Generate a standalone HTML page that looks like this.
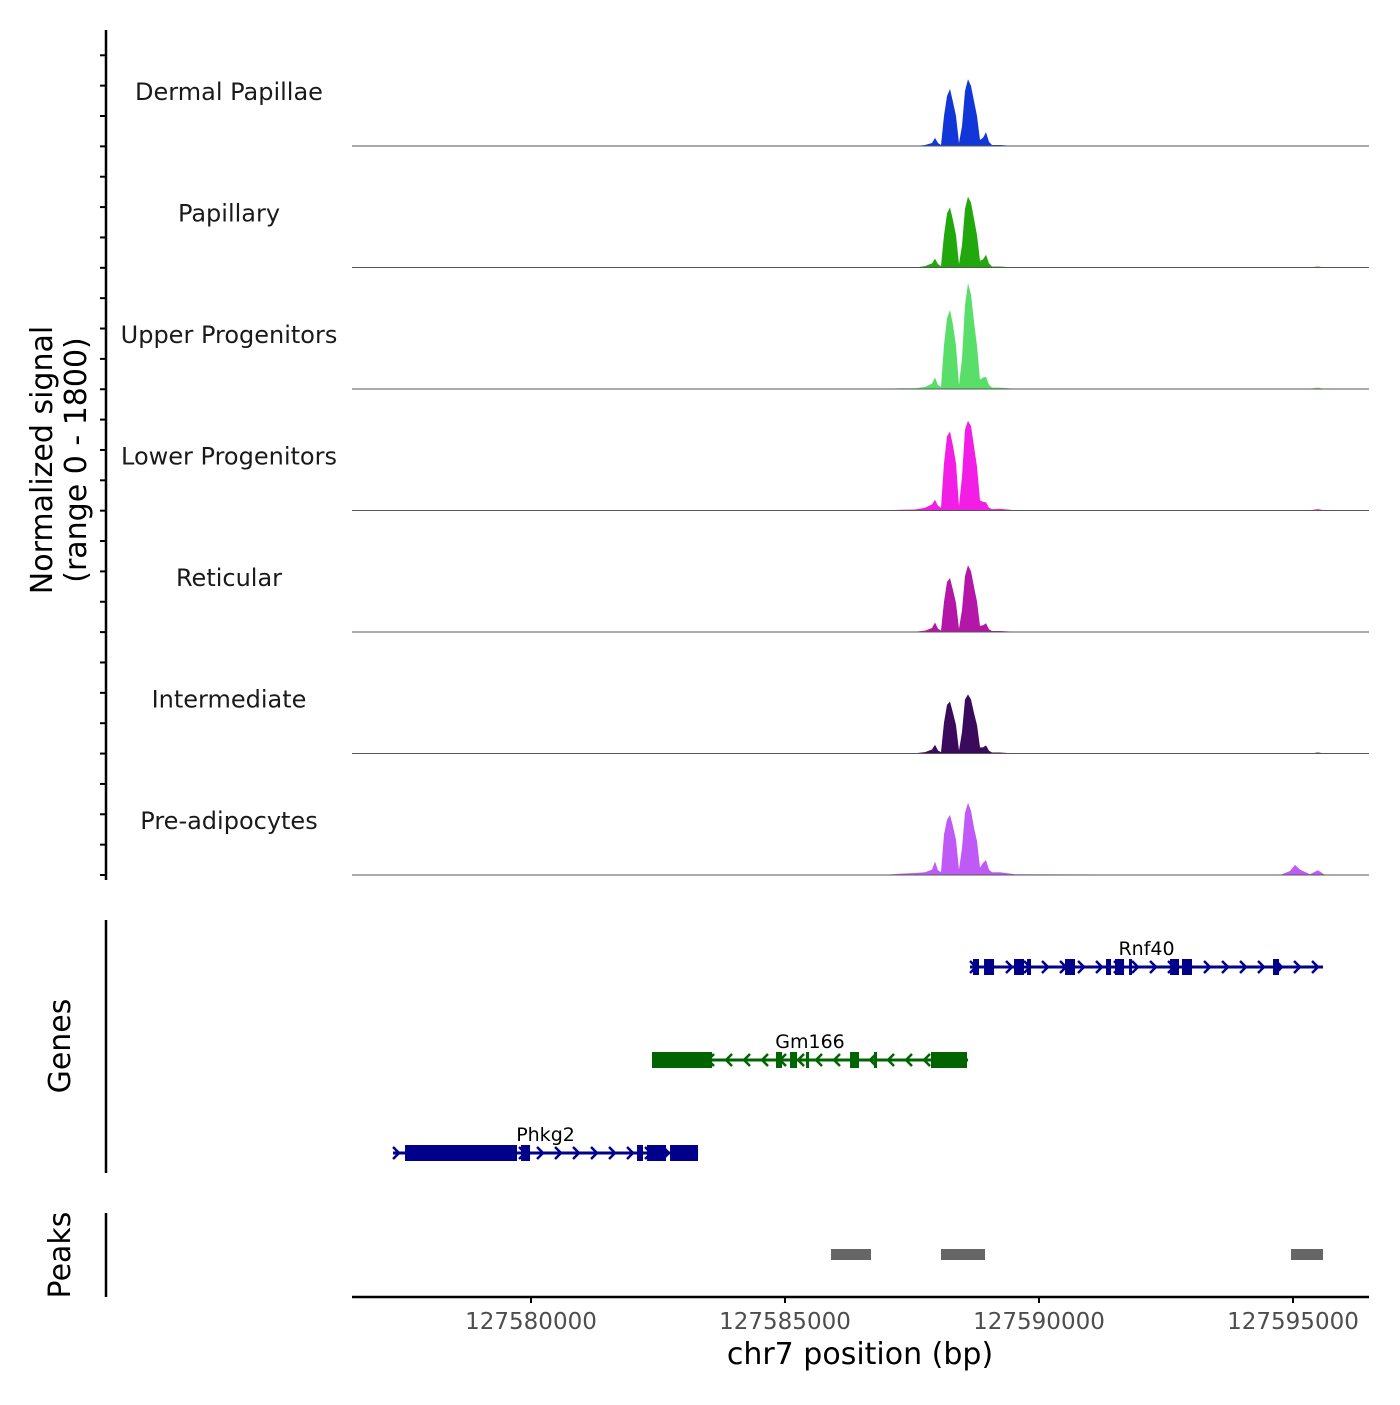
<!DOCTYPE html>
<html><head><meta charset="utf-8"><style>body{margin:0;background:#fff}svg{font-family:"DejaVu Sans","Liberation Sans",sans-serif}</style></head>
<body>
<svg id="c" width="1400" height="1400" xmlns="http://www.w3.org/2000/svg"></svg>
<script>
const trackNames=["Dermal Papillae","Papillary","Upper Progenitors","Lower Progenitors","Reticular","Intermediate","Pre-adipocytes"];
const trackColors=["#1237d8","#20a80c","#5ade6a","#f21ee6","#b417a8","#3a0a5c","#bf5af7"];
const positions=[127576476,127587000,127587300,127587559,127587756,127587894,127587953,127588012,127588071,127588130,127588189,127588248,127588307,127588367,127588426,127588485,127588544,127588603,127588662,127588721,127588780,127588839,127588898,127588957,127589016,127589075,127589233,127589528,127594745,127594941,127595040,127595138,127595335,127595493,127595630,127596496];
const vDP=[0,0,0,0,15,45,120,45,15,445,740,845,650,445,45,295,815,990,890,665,445,90,120,205,60,15,15,0,0,0,0,0,0,5,0,0];
const vPAP=[0,0,5,0,20,60,130,50,20,480,800,890,700,480,50,330,870,1050,960,720,480,100,120,190,60,15,15,0,0,0,0,0,5,15,0,0];
const vUP=[0,5,10,10,30,80,170,60,30,650,1050,1170,950,640,60,450,1240,1570,1400,1000,640,140,170,180,60,20,20,5,0,0,0,0,5,20,0,0];
const vLP=[0,5,10,15,40,90,160,70,40,700,1100,1170,960,700,70,500,1200,1330,1250,950,650,150,130,120,40,20,25,5,0,0,0,5,5,20,0,0];
const vRET=[0,0,5,5,20,60,140,50,20,450,740,800,620,430,50,330,830,990,900,670,450,90,100,130,40,15,15,5,0,0,0,0,0,5,0,0];
const vINT=[0,0,5,5,20,60,130,45,20,460,720,770,600,420,45,320,800,875,800,600,420,90,90,120,40,15,15,0,0,0,0,0,0,15,0,0];
const vPRE=[0,5,20,30,40,80,200,70,40,600,820,890,720,520,80,400,920,1070,950,700,500,110,180,220,80,40,40,10,0,60,150,80,10,70,0,0];
const trackValues=[vDP,vPAP,vUP,vLP,vRET,vINT,vPRE];
const xTicks=[127580000,127585000,127590000,127595000];
const genes=[
 {name:"Rnf40",strand:1,start:127588642,end:127595591,row:0,color:"#00008b",exons:[[127588701,127588819],[127588918,127589115],[127589508,127589705],[127589764,127589843],[127590512,127590709],[127591319,127591418],[127591496,127591674],[127591772,127591811],[127592579,127592756],[127592815,127593012],[127594607,127594725]]},
 {name:"Gm166",strand:-1,start:127582382,end:127588603,row:1,color:"#006400",exons:[[127582382,127583563],[127584823,127584941],[127585099,127585237],[127585414,127585453],[127586280,127586457],[127586752,127586792],[127587874,127588583]]},
 {name:"Phkg2",strand:1,start:127577284,end:127583288,row:2,color:"#00008b",exons:[[127577520,127579725],[127579804,127579981],[127582087,127582205],[127582284,127582658],[127582737,127583288]]}
];
const peaks=[[127585906,127586693],[127588071,127588937],[127594961,127595591]];

const NS="http://www.w3.org/2000/svg",svg=document.getElementById('c');
function el(t,a,p){const e=document.createElementNS(NS,t);for(const k in a)e.setAttribute(k,a[k]);(p||svg).appendChild(e);return e;}
const x=bp=>531+(bp-127580000)*254/5000;
const base0=146,step=121.5,ymax=1800,th=121.5;
const y=(i,v)=>base0+i*step-v/ymax*th;
let ax=el('line',{x1:106,y1:30,x2:106,y2:880,stroke:'#000','stroke-width':2.5});

for(let t=875;t>=30;t-=30.36){const l=el('line',{x1:100,y1:t,x2:106,y2:t,stroke:'#000','stroke-width':2});}
function txt(s,a,name){const e=el('text',a);e.textContent=s;return e;}
txt("Normalized signal",{x:0,y:0,transform:'translate(52,460) rotate(-90)','text-anchor':'middle','font-size':30},'y-axis-title');
txt("(range 0 - 1800)",{x:0,y:0,transform:'translate(86,460) rotate(-90)','text-anchor':'middle','font-size':30},'y-axis-range');
trackNames.forEach((n,i)=>{
 const b=base0+i*step;
 txt(n,{x:229,y:b-46,'text-anchor':'middle','font-size':24,fill:'#1a1a1a'},'track-label');
 let d=`M${x(positions[0])},${b}`;
 positions.forEach((p,j)=>{d+=` L${x(p).toFixed(1)},${y(i,trackValues[i][j]).toFixed(1)}`;});
 d+=` L${x(positions[positions.length-1])},${b} Z`;
 const a=el('path',{d,fill:trackColors[i]});
 const l=el('line',{x1:352,y1:b,x2:1369,y2:b,stroke:'#555','stroke-width':1});
});
let g=el('line',{x1:106,y1:920,x2:106,y2:1173,stroke:'#000','stroke-width':2.5});
txt("Genes",{x:0,y:0,transform:'translate(70,1046) rotate(-90)','text-anchor':'middle','font-size':30},'genes-title');
genes.forEach(gn=>{
 const gy=967+gn.row*93,c=gn.color;
 const grp=el('g',{});
 el('line',{x1:x(gn.start),y1:gy,x2:x(gn.end),y2:gy,stroke:c,'stroke-width':3},grp);
 for(let px=x(gn.start)+4;px<=x(gn.end);px+=18){const s=gn.strand;el('polyline',{points:`${px-4*s},${gy-6} ${px+2*s},${gy} ${px-4*s},${gy+6}`,fill:'none',stroke:c,'stroke-width':2.5},grp);}
 gn.exons.forEach(e=>el('rect',{x:x(e[0]),y:gy-8,width:Math.max(3,x(e[1])-x(e[0])),height:16,fill:c},grp));
 const t=el('text',{x:(x(gn.start)+x(gn.end))/2,y:gy-12,'text-anchor':'middle','font-size':19,fill:'#000'},grp);t.textContent=gn.name;
});
let pk=el('line',{x1:106,y1:1213,x2:106,y2:1297,stroke:'#000','stroke-width':2.5});
txt("Peaks",{x:0,y:0,transform:'translate(70,1255) rotate(-90)','text-anchor':'middle','font-size':30},'peaks-title');
peaks.forEach(p=>{const r=el('rect',{x:x(p[0]),y:1249,width:x(p[1])-x(p[0]),height:11,fill:'#666'});});
let xa=el('line',{x1:352,y1:1297,x2:1369,y2:1297,stroke:'#000','stroke-width':2.5});
xTicks.forEach(t=>{const l=el('line',{x1:x(t),y1:1297,x2:x(t),y2:1303,stroke:'#000','stroke-width':2});
 txt(String(t),{x:x(t),y:1329,'text-anchor':'middle','font-size':23,fill:'#4d4d4d'},'x-tick-label');});
txt("chr7 position (bp)",{x:860,y:1364,'text-anchor':'middle','font-size':30},'x-axis-title');
</script>
</body></html>
